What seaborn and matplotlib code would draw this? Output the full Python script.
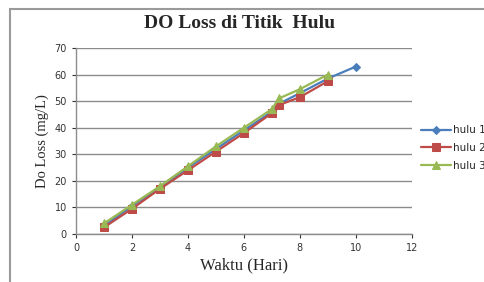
import pandas as pd
import numpy as np
import matplotlib
matplotlib.use('Agg')
import matplotlib.pyplot as plt
import seaborn as sns
from matplotlib.patches import Rectangle

# dados
hari_1 = [1, 2, 3, 4, 5, 6, 7, 7.25, 8, 9, 10]
hulu_1 = [3, 10.5, 17.5, 25, 32, 39, 46, 49, 53, 58.5, 63]
hari_2 = [1, 2, 3, 4, 5, 6, 7, 7.25, 8, 9]
hulu_2 = [2.5, 9.5, 17, 24, 31, 38, 45.5, 48.5, 51.5, 57.5]
hari_3 = [1, 2, 3, 4, 5, 6, 7, 7.25, 8, 9]
hulu_3 = [4, 11, 18, 25.5, 33, 40, 47, 51, 54.5, 60]

nama = ['hulu 1', 'hulu 2', 'hulu 3']
warna = ['#4A7EBB', '#BE4B48', '#98B954']
penanda = ['D', 's', '^']
ukuran = [4, 5.5, 6]

sns.set_style('white')
plt.rcParams['font.family'] = ['DejaVu Sans']

fig = plt.figure(figsize=(4.84, 2.82), dpi=100)
ax = fig.add_axes([0.157, 0.170, 0.694, 0.660])

# moldura do grafico
fig.patches.append(Rectangle((10 / 484, -0.05), 1.05, 1 - 9 / 282 + 0.05,
                             transform=fig.transFigure, fill=False,
                             edgecolor='#9a9a9a', linewidth=1.5))

series = [(hari_1, hulu_1), (hari_2, hulu_2), (hari_3, hulu_3)]
for (x, y), n, c, m, s in zip(series, nama, warna, penanda, ukuran):
    sns.lineplot(x=x, y=y, ax=ax, color=c, marker=m, markersize=s,
                 markeredgecolor=c, linewidth=1.6, label=n, sort=False)

ax.set_xlim(0, 12)
ax.set_ylim(0, 70)
ax.set_xticks(np.arange(0, 13, 2))
ax.set_yticks(np.arange(0, 71, 10))
ax.yaxis.grid(True, color='#8c8c8c', linewidth=1)
ax.xaxis.grid(False)
for lado in ['top', 'right']:
    ax.spines[lado].set_visible(False)
for lado in ['left', 'bottom']:
    ax.spines[lado].set_color('#8c8c8c')
    ax.spines[lado].set_linewidth(1)
ax.tick_params(axis='both', labelsize=7, colors='#333333', length=3,
               width=0.8, direction='out', bottom=True, left=True)
for t in ax.get_xticklabels() + ax.get_yticklabels():
    t.set_color('#333333')

ax.set_xlabel('Waktu (Hari)', family='Liberation Serif', fontsize=12, labelpad=3)
ax.set_ylabel('Do Loss (mg/L)', family='Liberation Serif', fontsize=10.5, labelpad=4)
fig.text(0.495, 0.915, 'DO Loss di Titik  Hulu', family='Liberation Serif',
         fontweight='bold', fontsize=14, ha='center', va='center')

ax.legend_.remove()
h, l = ax.get_legend_handles_labels()
fig.legend(h, l, loc='center left', bbox_to_anchor=(0.862, 0.475), frameon=False,
           fontsize=7.5, handlelength=2.8, handletextpad=0.2, labelspacing=0.75,
           borderaxespad=0)

fig.savefig('out.png', dpi=100)
